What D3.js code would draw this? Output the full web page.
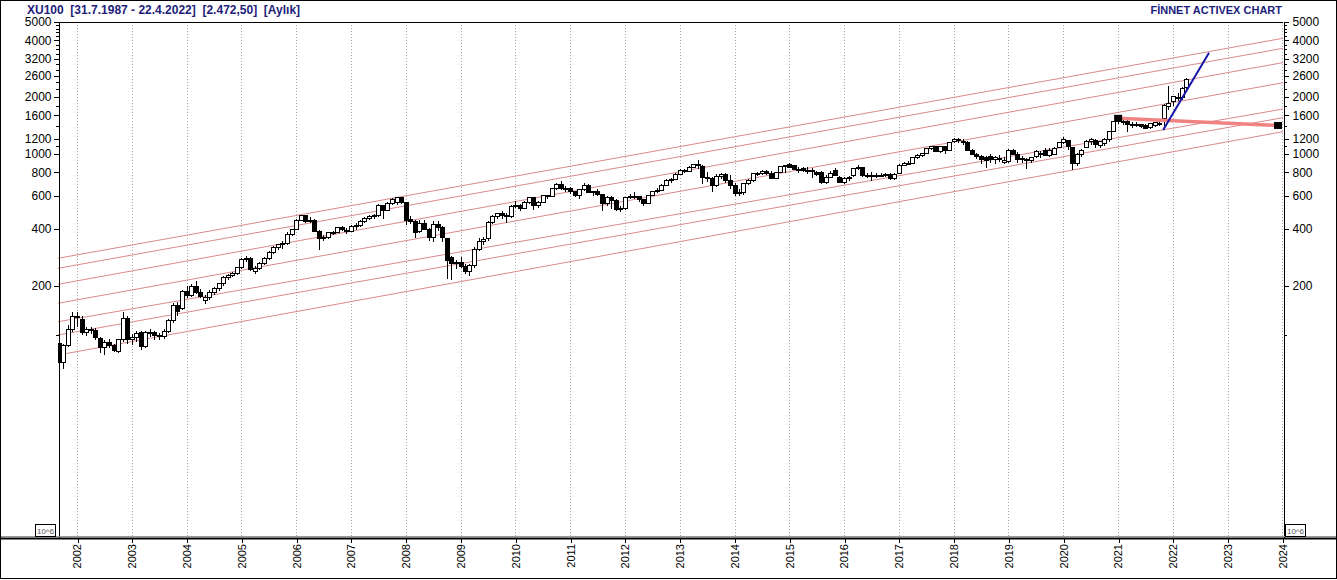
<!DOCTYPE html>
<html><head><meta charset="utf-8">
<script src="https://cdn.jsdelivr.net/npm/d3@7"></script>
<style>
html,body{margin:0;padding:0;background:#fff;}
svg{display:block;font-family:"Liberation Sans",Arial,sans-serif;}
</style></head><body>
<svg id="c" width="1337" height="580"></svg>
<script>
// ---------------- DATA ----------------
const titleText = "XU100  [31.7.1987 - 22.4.2022]  [2.472,50]  [Aylık]";
const brandText = "FİNNET ACTIVEX CHART";
const firstMonth = "2001-09"; // monthly candles, one per month from here

const opens = [
  99,79,97,117,
  138,133,113,117,116,105,94,101,97,90,104,134,
  104,107,113,96,113,113,109,108,115,131,158,152,
  186,178,200,185,168,174,185,193,205,222,226,232,
  250,275,280,240,249,264,280,300,320,330,335,375,
  398,445,470,440,445,390,355,362,383,386,408,395,
  391,413,420,438,455,465,470,535,505,545,556,585,
  555,448,440,390,430,400,360,425,410,355,282,262,
  268,255,240,258,312,345,355,432,468,482,472,468,
  528,535,515,555,585,535,555,600,595,655,690,655,
  660,632,605,645,680,628,632,610,548,585,565,510,
  513,585,598,592,575,548,602,635,642,685,725,735,
  782,815,805,850,880,860,750,740,680,760,775,720,
  678,618,628,695,725,790,785,808,790,745,800,855,
  880,865,830,840,820,822,800,800,705,755,815,755,
  705,745,765,835,852,768,770,765,770,770,780,740,
  785,870,890,895,955,985,1004,1075,1100,1030,1090,1050,
  1160,1195,1170,1150,1050,1000,975,960,970,930,950,905,
  915,1045,1000,945,930,920,965,1000,1040,985,1000,1080,
  1144,1180,1080,890,990,1080,1160,1175,1115,1130,1190,1310,
  1485,1460,1490,1430,1440,1430,1420,1380,1410,1450,1540,1790,
  1886,1990,2000,2240
];
const highs = [
  101,99,124,145,
  146,138,122,121,120,108,104,105,99,105,145,139,
  112,115,116,116,119,115,113,119,134,162,165,190,
  200,205,212,192,180,190,198,208,225,232,238,252,
  280,290,284,255,268,285,305,325,335,345,385,402,
  455,478,475,462,452,395,372,388,392,412,418,405,
  420,432,445,462,475,480,545,540,555,585,592,590,
  560,470,445,445,445,405,440,440,415,360,290,275,
  285,262,262,320,358,362,440,475,490,498,485,535,
  565,545,565,595,590,565,610,610,660,700,718,680,
  668,640,650,700,690,640,650,615,600,600,580,530,
  590,612,628,600,580,610,640,660,692,735,745,790,
  835,830,860,890,935,870,800,760,785,795,790,770,
  700,650,700,738,795,805,818,818,810,805,862,875,
  900,870,850,855,850,840,815,808,770,810,845,765,
  755,765,845,870,858,795,800,790,790,790,790,790,
  885,905,915,965,1000,1010,1080,1105,1105,1095,1095,1160,
  1215,1210,1195,1165,1065,1010,990,975,1000,975,985,960,
  1060,1065,1030,980,950,970,1045,1040,1070,1070,1085,1160,
  1230,1190,1090,1010,1060,1185,1210,1200,1170,1210,1330,1500,
  1570,1560,1520,1470,1480,1450,1440,1460,1480,1490,1830,2300,
  2030,2100,2260,2530
];
const lows = [
  75,73,95,114,
  121,110,109,112,104,88,86,94,89,88,101,99,
  98,101,92,94,107,104,104,105,113,128,138,150,
  172,175,182,172,160,168,180,188,200,215,222,228,
  245,268,240,232,244,258,276,295,312,315,330,368,
  395,440,430,432,385,312,345,355,372,380,392,378,
  385,398,410,430,445,450,465,450,500,540,535,545,
  420,425,360,380,395,345,340,390,340,218,214,245,
  248,232,225,250,305,330,345,425,455,455,430,460,
  515,500,510,545,505,520,548,575,590,648,645,630,
  615,595,580,640,620,600,600,500,530,512,500,492,
  505,575,580,560,530,545,598,625,635,675,705,730,
  770,790,800,840,830,690,715,630,670,740,700,650,
  600,600,610,685,715,765,770,775,740,735,795,790,
  840,820,795,805,780,745,765,690,690,745,765,700,
  690,720,760,820,760,745,720,750,755,760,725,730,
  780,860,875,880,945,970,1000,1055,1020,1010,1000,1040,
  1150,1140,1120,1040,990,940,880,840,900,890,910,880,
  900,985,900,900,830,900,955,950,975,965,990,1070,
  1130,1050,820,860,970,1075,1120,1070,1080,1100,1160,1300,
  1440,1430,1300,1380,1390,1370,1350,1360,1385,1400,1350,1700,
  1800,1900,1940,2200
];
const closes = [
  79,97,117,138,
  136,113,117,116,107,94,101,97,91,104,134,104,
  107,112,96,113,112,109,108,115,131,158,146,186,
  178,200,185,176,174,185,193,205,222,226,232,250,
  275,280,245,249,264,280,300,320,330,335,375,398,
  445,470,440,445,390,355,362,383,386,408,398,391,
  413,420,438,455,465,470,535,505,545,575,585,555,
  445,440,385,430,400,360,425,410,360,272,262,268,
  255,240,258,312,345,352,432,468,482,472,468,528,
  535,515,555,585,535,555,600,595,655,690,655,660,
  632,605,645,680,628,632,610,548,585,565,510,513,
  585,598,592,575,548,602,635,642,685,725,735,782,
  815,805,850,880,875,750,740,680,760,775,720,678,
  618,628,695,725,790,785,808,790,745,800,855,865,
  850,830,825,820,822,818,775,705,750,790,772,705,
  745,752,835,852,768,770,765,770,768,775,740,781,
  870,890,895,955,985,1004,1075,1100,1030,1090,1050,1153,
  1195,1180,1155,1050,1000,965,930,925,930,960,948,925,
  1040,1000,940,930,925,960,1030,1010,985,1045,1075,1144,
  1200,1090,890,1000,1050,1170,1200,1120,1160,1195,1310,1485,
  1500,1490,1430,1440,1430,1390,1370,1450,1465,1455,1815,1840,
  2004,1985,2236,2472
];

// axis ticks
const yMajorTicks = [5000,4000,3200,2600,2000,1600,1200,1000,800,600,400,200];
const yMinorTicks = [4800,4600,4400,4200,3800,3600,3400,3000,2800,2400,2200,1800,1400,1100,110];
const yearLabels = ["2002","2003","2004","2005","2006","2007","2008","2009","2010","2011","2012","2013",
                    "2014","2015","2016","2017","2018","2019","2020","2021","2022","2023","2024"];
const xDomain = ["2001-08-27","2024-01-05"];
const yDomain = [9.375, 5000];

// parallel channel lines (value at left edge date, value at right edge date)
const channelStartDate = "2001-08-27";
const channelEndDate = "2024-01-05";
const channelStartValues = [280.4, 248.2, 204.2, 162.0, 129.4, 110.0, 86.2];
const channelEndValues   = [4100, 3628, 3048, 2385, 1730, 1557, 1313];

// drawn trend lines
const blueLineDates = ["2021-10-28","2022-08-30"];
const blueLineValues = [1340, 3440];
const pinkLineDates = ["2021-01-01","2023-12-03"];
const pinkLineValues = [1545, 1416];

// ---------------- DRAW ----------------
const W = 1337, H = 580;
const P = {left:58, right:1283, top:22, bottom:537};
const parse = d3.timeParse("%Y-%m-%d");
const svg = d3.select("#c");

const x = d3.scaleTime().domain(xDomain.map(parse)).range([P.left, P.right]);
const y = d3.scaleLog().domain(yDomain).range([P.bottom, P.top]);

const m0 = d3.timeParse("%Y-%m")(firstMonth);
const candles = opens.map((o,i)=>({
  date: d3.timeMonth.offset(m0, i), o, h: highs[i], l: lows[i], c: closes[i]
}));

svg.append("rect").attr("width",W).attr("height",H).attr("fill","#fff");

// title texts
svg.append("text").attr("x",27).attr("y",14)
  .attr("font-size","12px").attr("font-weight","bold").attr("fill","#1d1d7a")
  .style("white-space","pre").text(titleText);
svg.append("text").attr("x",1282).attr("y",14).attr("text-anchor","end")
  .attr("font-size","11px").attr("font-weight","bold").attr("fill","#1d1d7a")
  .text(brandText);

// clip
svg.append("clipPath").attr("id","pc").append("rect")
  .attr("x",P.left).attr("y",P.top).attr("width",P.right-P.left).attr("height",P.bottom-P.top);

// vertical dotted year grid
const yearDates = yearLabels.map(s=>new Date(+s,0,1));
svg.append("g").selectAll("line").data(yearDates).join("line")
  .attr("x1",d=>Math.round(x(d))+0.5).attr("x2",d=>Math.round(x(d))+0.5)
  .attr("y1",P.top).attr("y2",P.bottom)
  .attr("stroke","#a9a9a9").attr("stroke-dasharray","1,2");

const plot = svg.append("g").attr("clip-path","url(#pc)");

// channel lines
plot.append("g").selectAll("line").data(channelStartValues).join("line")
  .attr("x1",x(parse(channelStartDate))).attr("x2",x(parse(channelEndDate)))
  .attr("y1",d=>y(d)).attr("y2",(d,i)=>y(channelEndValues[i]))
  .attr("stroke","#d98a8c").attr("stroke-width",1);

// candles
const cg = plot.append("g").attr("shape-rendering","crispEdges");
const cs = cg.selectAll("g").data(candles).join("g");
cs.append("line")
  .attr("x1",d=>Math.round(x(d.date))+0.5).attr("x2",d=>Math.round(x(d.date))+0.5)
  .attr("y1",d=>y(d.h)).attr("y2",d=>y(d.l)).attr("stroke","#000");
cs.append("rect")
  .attr("x",d=>Math.round(x(d.date))-1.5)
  .attr("width",4)
  .attr("y",d=>y(Math.max(d.o,d.c)))
  .attr("height",d=>Math.max(1,y(Math.min(d.o,d.c))-y(Math.max(d.o,d.c))))
  .attr("fill",d=>d.c>=d.o?"#fff":"#000").attr("stroke","#000");

// pink line and blue line
const lineGen = d3.line().x(d=>x(d[0])).y(d=>y(d[1]));
plot.append("path")
  .datum(pinkLineDates.map((s,i)=>[parse(s),pinkLineValues[i]]))
  .attr("d",lineGen).attr("fill","none").attr("stroke","#f08282").attr("stroke-width",3.5);
plot.append("path")
  .datum(blueLineDates.map((s,i)=>[parse(s),blueLineValues[i]]))
  .attr("d",lineGen).attr("fill","none").attr("stroke","#1515a8").attr("stroke-width",2);
// handle squares on pink line
plot.append("g").selectAll("rect").data(pinkLineDates.map((s,i)=>[parse(s),pinkLineValues[i]])).join("rect")
  .attr("x",d=>x(d[0])-4).attr("y",d=>y(d[1])-3.5).attr("width",8).attr("height",7).attr("fill","#000");

// plot top border
svg.append("line").attr("x1",P.left).attr("x2",P.right).attr("y1",P.top+0.5).attr("y2",P.top+0.5)
  .attr("stroke","#000");

function styleAxis(g){
  g.attr("font-family",null).attr("font-size",null);
  g.selectAll("text").attr("font-size","12px").attr("fill","#000")
    .attr("font-family","'Liberation Sans',Arial,sans-serif");
  g.selectAll("line,path").attr("stroke","#000").attr("shape-rendering","crispEdges");
}

// left axis
const la = svg.append("g").attr("transform",`translate(${P.left+0.5},0)`)
  .call(d3.axisLeft(y).tickValues(yMajorTicks).tickFormat(d=>String(d)).tickSize(5).tickSizeOuter(0).tickPadding(2));
styleAxis(la);
const lam = svg.append("g").attr("transform",`translate(${P.left+0.5},0)`)
  .call(d3.axisLeft(y).tickValues(yMinorTicks).tickFormat("").tickSize(3).tickSizeOuter(0));
styleAxis(lam); lam.select(".domain").remove();

// right axis
const ra = svg.append("g").attr("transform",`translate(${P.right+0.5},0)`)
  .call(d3.axisRight(y).tickValues(yMajorTicks).tickFormat(d=>String(d)).tickSize(5).tickSizeOuter(0).tickPadding(4));
styleAxis(ra);
const ram = svg.append("g").attr("transform",`translate(${P.right+0.5},0)`)
  .call(d3.axisRight(y).tickValues(yMinorTicks).tickFormat("").tickSize(3).tickSizeOuter(0));
styleAxis(ram); ram.select(".domain").remove();

// bottom separator
svg.append("line").attr("x1",0).attr("x2",W).attr("y1",536.5).attr("y2",536.5).attr("stroke","#9a9a9a");
svg.append("line").attr("x1",0).attr("x2",W).attr("y1",538.5).attr("y2",538.5).attr("stroke","#000").attr("stroke-width",2);

// bottom axis
const ba = svg.append("g").attr("transform",`translate(0,539)`)
  .call(d3.axisBottom(x).tickValues(yearDates).tickFormat(d3.timeFormat("%Y")).tickSize(4).tickSizeOuter(0));
styleAxis(ba); ba.select(".domain").remove();
ba.selectAll(".tick line").attr("transform","translate(0.5,0)");
ba.selectAll("text").attr("font-size","11px")
  .attr("transform","rotate(-90)").attr("text-anchor","end")
  .attr("x",-5).attr("y",0).attr("dy","0.35em");

// 10^6 boxes
[[35,524],[1285,524]].forEach(([bx,by])=>{
  svg.append("rect").attr("x",bx+0.5).attr("y",by+0.5).attr("width",20).attr("height",12)
    .attr("fill","#fff").attr("stroke","#000");
  svg.append("text").attr("x",bx+10.5).attr("y",by+9.5).attr("text-anchor","middle")
    .attr("font-size","8px").attr("fill","#555").text("10^6");
});

// outer frame
svg.append("rect").attr("x",0.5).attr("y",0.5).attr("width",W-1).attr("height",578)
  .attr("fill","none").attr("stroke","#000");
</script>
</body></html>
